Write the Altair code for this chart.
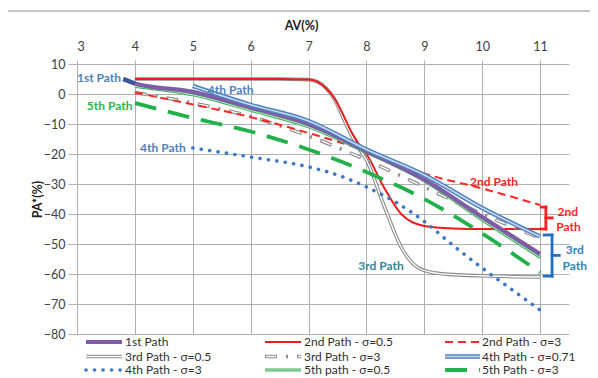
import altair as alt
import pandas as pd

# ---------------- data ----------------
p1_x = [3.8, 4, 5, 6, 7, 8, 9, 10, 11]
p1_y = [5, 3.5, 0.7, -4.5, -10, -19, -28.5, -41, -53.3]

p2a_x = [4, 5, 6, 6.5, 7, 7.15, 7.3, 7.45, 7.6, 7.75, 7.9, 8, 8.3, 8.6, 9, 9.5, 10, 11]
p2a_y = [5, 5, 5, 5, 4.8, 4.1, 2, -1.5, -7, -13, -17.5, -20, -31, -40, -44, -44.8, -45, -45]

p2b_x = [4, 5, 6, 7, 8, 9, 10, 11]
p2b_y = [0.5, -3.5, -7.7, -13, -19, -26.5, -31.5, -37]

p3a_x = [4, 5, 6, 6.5, 7, 7.15, 7.3, 7.45, 7.6, 7.75, 7.9, 8, 8.3, 8.6, 8.9, 9.2, 9.5, 10, 11]
p3a_y = [5, 5, 5, 5, 4.8, 4.1, 2, -1.8, -8, -14, -19, -22, -37, -51, -58, -59.7, -60.2, -60.6, -61]

p3b_x = [4, 5, 6, 7, 8, 9, 10, 11]
p3b_y = [0.5, -3, -7.5, -14, -22, -31, -40, -48]

p4a_x = [5, 6, 7, 8, 9, 10, 11]
p4a_y = [2.7, -3.6, -9, -18.5, -27, -38, -47.5]

p4b_x = [5, 6, 7, 7.5, 8, 8.5, 9, 9.5, 10, 10.5, 11]
p4b_y = [-18, -21, -24.3, -27, -31, -36, -42.5, -50.5, -58, -65, -72]

p5a_x = [4, 5, 6, 7, 8, 9, 10, 11]
p5a_y = [2.5, -0.3, -5.5, -11, -19.5, -29, -42, -54.5]

p5b_x = [4, 5, 6, 7, 8, 9, 10, 11]
p5b_y = [-3, -8, -12.5, -18.5, -26, -35, -46.5, -59.5]

x_ticks = [3, 4, 5, 6, 7, 8, 9, 10, 11]
y_ticks = [10, 0, -10, -20, -30, -40, -50, -60, -70, -80]

legend_labels = [
    "1st Path", "2nd Path - σ=0.5", "2nd Path - σ=3",
    "3rd Path - σ=0.5", "3rd Path - σ=3", "4th Path - σ=0.71",
    "4th Path - σ=3", "5th path - σ=0.5", "5th Path - σ=3",
]

# in-plot labels: text, x, y, colour, align
lab_text = ["1st Path", "4th Path", "5th Path", "4th Path", "2nd Path", "2nd", "Path", "3rd", "Path", "3rd Path"]
lab_x = [3.0, 5.26, 3.17, 4.09, 9.79, 11.48, 11.49, 11.6, 11.6, 7.86]
lab_y = [5.3, 1.3, -4.0, -18.0, -29.3, -39.3, -44.3, -52.0, -57.3, -57.3]
lab_col = ["#4f81bd", "#4f81bd", "#2eb24a", "#4f81bd", "#ff1f1f", "#ff1f1f", "#ff1f1f",
           "#2e86b8", "#2e86b8", "#31859c"]
lab_align = ["left", "left", "left", "left", "left", "center", "center", "center", "center", "left"]

# brackets: x, x2, y, y2, colour
br_x = [11.10, 11.02, 11.02, 11.10, 11.207, 11.07, 11.07, 11.207]
br_x2 = [11.10, 11.10, 11.10, 11.21, 11.207, 11.207, 11.207, 11.33]
br_y = [-37.7, -37.7, -45.0, -41.3, -47.0, -47.0, -60.7, -53.8]
br_y2 = [-45.0, -37.7, -45.0, -41.3, -60.7, -47.0, -60.7, -53.8]
br_col = ["#ff1f1f"] * 4 + ["#1f6fc5"] * 4

FONT = "Lato"

xscale = alt.Scale(domain=[3, 11.5], nice=False, zero=False)
yscale = alt.Scale(domain=[-80, 10], nice=False, zero=False)

xaxis = alt.Axis(orient="top", values=x_ticks, grid=True, gridColor="#b0b0b0", domain=False,
                 tickColor="#b0b0b0", tickSize=4, labelPadding=7, labelFontSize=12.5,
                 labelColor="#404040", labelFont=FONT, title="AV(%)", titleFont=FONT,
                 titleFontSize=12.5, titleFontWeight="bold", titleColor="#202020",
                 titleX=224, titleY=-39, titleAlign="center", titleBaseline="middle")
yaxis = alt.Axis(values=y_ticks, grid=True, gridColor="#b0b0b0", domain=False,
                 tickColor="#b0b0b0", tickSize=9, labelPadding=3, labelFontSize=12.5,
                 labelColor="#404040", labelFont=FONT, title="PA*(%)", titleFont=FONT,
                 titleFontSize=12.5, titleFontWeight="bold", titleColor="#202020",
                 titleX=-40, titleY=135, titleAngle=270, titleAlign="center",
                 titleBaseline="middle")

X = alt.X("x:Q", scale=xscale, axis=xaxis)
Y = alt.Y("y:Q", scale=yscale, axis=yaxis)


def px2x(px):
    return 3 + (px - 77) / 57.875


def py2y(py):
    return (94 - py) / 3


# legend slots (col, row)
col_sym = [(86, 122), (265, 301), (445, 480)]
col_txt = [125, 304, 482]
row_py = [342, 356.5, 370]


def legend_seg(i):
    c, r = i % 3, i // 3
    a, b = col_sym[c]
    return pd.DataFrame({"x": [px2x(a), px2x(b)], "y": [py2y(row_py[r])] * 2})


styles = {
    0: [dict(color="#7e5ca8", strokeWidth=4.2)],
    1: [dict(color="#ee1c1c", strokeWidth=2)],
    2: [dict(color="#ff2626", strokeWidth=2, strokeDash=[8, 5])],
    3: [dict(color="#8a8a8a", strokeWidth=3.6), dict(color="#ffffff", strokeWidth=1.4)],
    4: [dict(color="#8a8a8a", strokeWidth=3.6, strokeDash=[12, 9, 2, 9]),
        dict(color="#ffffff", strokeWidth=1.4, strokeDash=[10, 22], strokeDashOffset=-1)],
    5: [dict(color="#4f81bd", strokeWidth=4.5), dict(color="#c6d9f1", strokeWidth=1.6)],
    6: [dict(color="#3d78c8", strokeWidth=3.6, strokeDash=[0.1, 8.4], strokeCap="round")],
    7: [dict(color="#3fae5a", strokeWidth=2.8), dict(color="#c8ecd0", strokeWidth=0.9)],
    8: [dict(color="#22b04a", strokeWidth=3.8, strokeDash=[22, 12])],
}
series = {
    0: (p1_x, p1_y), 1: (p2a_x, p2a_y), 2: (p2b_x, p2b_y), 3: (p3a_x, p3a_y),
    4: (p3b_x, p3b_y), 5: (p4a_x, p4a_y), 6: (p4b_x, p4b_y), 7: (p5a_x, p5a_y),
    8: (p5b_x, p5b_y),
}

draw_order = [3, 1, 8, 6, 4, 2, 7, 0, 5]

layers = []
# outer chart frame (decoration)
layers.append(
    alt.Chart(pd.DataFrame({"k": [0]})).mark_rect(fill="white", fillOpacity=0, stroke="#8c8c8c",
                                                  strokeWidth=1)
    .encode(x=alt.value(-70), x2=alt.value(800), y=alt.value(-53), y2=alt.value(600))
)

for s in draw_order:
    xs, ys = series[s]
    df = pd.DataFrame({"x": xs, "y": ys})
    for st in styles[s]:
        layers.append(alt.Chart(df).mark_line(interpolate="monotone", **st).encode(x=X, y=Y))
    if s == 0:
        seg = df[df["x"] <= 4]
        layers.append(alt.Chart(seg).mark_line(color="#3b5998", strokeWidth=4.2)
                      .encode(x=X, y=Y))

# legend symbols
for i in range(9):
    seg = legend_seg(i)
    for st in styles[i]:
        layers.append(alt.Chart(seg).mark_line(**st).encode(x=X, y=Y))

leg_df = pd.DataFrame({
    "x": [px2x(col_txt[i % 3]) for i in range(9)],
    "y": [py2y(row_py[i // 3]) for i in range(9)],
    "t": legend_labels,
})
layers.append(alt.Chart(leg_df).mark_text(align="left", baseline="middle", font=FONT,
                                          fontSize=12, color="#303030")
              .encode(x=X, y=Y, text="t:N"))

# brackets
br_df = pd.DataFrame({"x": br_x, "x2": br_x2, "y": br_y, "y2": br_y2, "c": br_col})
layers.append(alt.Chart(br_df).mark_rule(strokeWidth=2.8, strokeCap="square")
              .encode(x=X, x2="x2:Q", y=Y, y2="y2:Q", color=alt.Color("c:N", scale=None)))

# in-plot labels
lab_df = pd.DataFrame({"x": lab_x, "y": lab_y, "t": lab_text, "c": lab_col, "a": lab_align})
for al in ["left", "center"]:
    sub = lab_df[lab_df["a"] == al]
    layers.append(alt.Chart(sub).mark_text(align=al, baseline="middle", font=FONT,
                                           fontSize=12, fontWeight="bold")
                  .encode(x=X, y=Y, text="t:N", color=alt.Color("c:N", scale=None)))

chart = alt.layer(*layers).properties(
    width=492, height=270,
    autosize=alt.AutoSizeParams(type="none"),
    padding={"left": 69, "top": 56, "right": 21, "bottom": 43},
    background="white",
).configure_view(stroke=None)

chart.save("out.html", embed_options={"renderer": "svg", "actions": False})
